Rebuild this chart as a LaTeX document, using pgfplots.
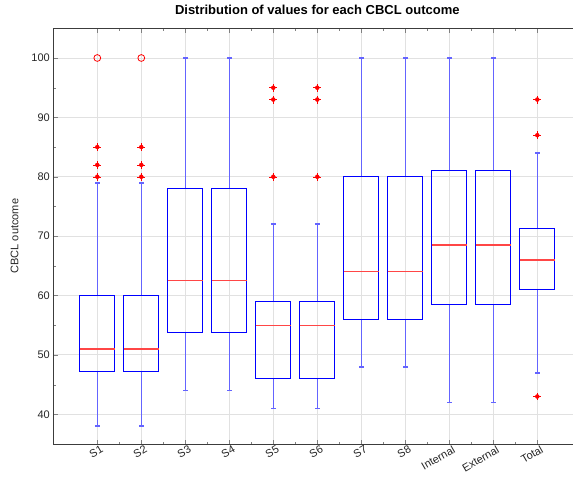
\documentclass[border=0pt]{standalone}
\usepackage{fontspec}
\setmainfont{Liberation Sans}
\usepackage{pgfplots}
\pgfplotsset{compat=1.18}
\usepgfplotslibrary{statistics}
\definecolor{gridc}{RGB}{225,225,225}
\definecolor{axc}{RGB}{60,60,60}
\definecolor{txc}{RGB}{38,38,38}
\definecolor{whc}{RGB}{100,100,255}
\definecolor{medc}{RGB}{255,70,70}
\begin{document}
\begin{tikzpicture}
\path[use as bounding box] (0,0) rectangle (573pt,477pt);
\begin{axis}[
  at={(53.3pt,33pt)}, anchor=south west,
  scale only axis, width=528pt, height=415.7pt,
  xmin=0, xmax=12, ymin=35, ymax=105,
  xtick={1,...,11},
  xticklabels={S1,S2,S3,S4,S5,S6,S7,S8,Internal,External,Total},
  ytick={40,50,...,100},
  minor x tick num=1, minor y tick num=1,
  tick align=inside,
  major tick length=4.5pt, minor tick length=2.5pt,
  axis line style={axc, line width=0.7pt},
  grid=major,
  major grid style={gridc, line width=0.9pt},
  tick label style={font=\fontsize{11}{13}\selectfont, text=txc},
  /pgf/number format/assume math mode=true,
  xticklabel style={rotate=30, anchor=north east, inner sep=1pt, yshift=-1pt, xshift=3pt},
  ylabel={CBCL outcome},
  ylabel style={font=\fontsize{11}{13}\selectfont, text=txc, yshift=6pt},
  title={Distribution of values for each CBCL outcome},
  title style={font=\bfseries\fontsize{13}{15}\selectfont, text=black, yshift=4pt},
  boxplot/draw direction=y,
  boxplot/box extend=0.8,
  boxplot/whisker extend=0.1,
  boxplot/every whisker/.style={draw=whc, line width=1.6pt},
  boxplot/every median/.style={draw=medc, line width=1.2pt},
  boxplot/every box/.style={draw=blue, line width=0.9pt},
  cycle list={{blue, mark=none}},
]
\addplot+[boxplot prepared={draw position=1, lower whisker=38, lower quartile=47.25, median=51, upper quartile=60, upper whisker=79}] coordinates {};
\addplot+[boxplot prepared={draw position=2, lower whisker=38, lower quartile=47.25, median=51, upper quartile=60, upper whisker=79}] coordinates {};
\addplot+[boxplot prepared={draw position=3, lower whisker=44, lower quartile=53.8, median=62.5, upper quartile=78, upper whisker=100}] coordinates {};
\addplot+[boxplot prepared={draw position=4, lower whisker=44, lower quartile=53.8, median=62.5, upper quartile=78, upper whisker=100}] coordinates {};
\addplot+[boxplot prepared={draw position=5, lower whisker=41, lower quartile=46, median=55, upper quartile=59, upper whisker=72}] coordinates {};
\addplot+[boxplot prepared={draw position=6, lower whisker=41, lower quartile=46, median=55, upper quartile=59, upper whisker=72}] coordinates {};
\addplot+[boxplot prepared={draw position=7, lower whisker=48, lower quartile=56, median=64, upper quartile=80, upper whisker=100}] coordinates {};
\addplot+[boxplot prepared={draw position=8, lower whisker=48, lower quartile=56, median=64, upper quartile=80, upper whisker=100}] coordinates {};
\addplot+[boxplot prepared={draw position=9, lower whisker=42, lower quartile=58.5, median=68.5, upper quartile=81, upper whisker=100}] coordinates {};
\addplot+[boxplot prepared={draw position=10, lower whisker=42, lower quartile=58.5, median=68.5, upper quartile=81, upper whisker=100}] coordinates {};
\addplot+[boxplot prepared={draw position=11, lower whisker=47, lower quartile=61, median=66, upper quartile=71.25, upper whisker=84}] coordinates {};
% outliers drawn as "+" (crossed error bars)
\addplot[only marks, mark=none, red,
  error bars/.cd, x dir=both, x explicit, y dir=both, y explicit,
  error mark=none, error bar style={draw=red, line width=0.5pt}]
  coordinates {
  (1,80) +- (0.09,0.67) (1,82) +- (0.09,0.67) (1,85) +- (0.09,0.67)
  (2,80) +- (0.09,0.67) (2,82) +- (0.09,0.67) (2,85) +- (0.09,0.67)
  (5,80) +- (0.09,0.67) (5,93) +- (0.09,0.67) (5,95) +- (0.09,0.67)
  (6,80) +- (0.09,0.67) (6,93) +- (0.09,0.67) (6,95) +- (0.09,0.67)
  (11,43) +- (0.09,0.67) (11,87) +- (0.09,0.67) (11,93) +- (0.09,0.67)};
\addplot[only marks, mark=o, red, mark size=3.4pt, line width=0.8pt] coordinates {(1,100) (2,100)};
\end{axis}
\end{tikzpicture}
\end{document}
